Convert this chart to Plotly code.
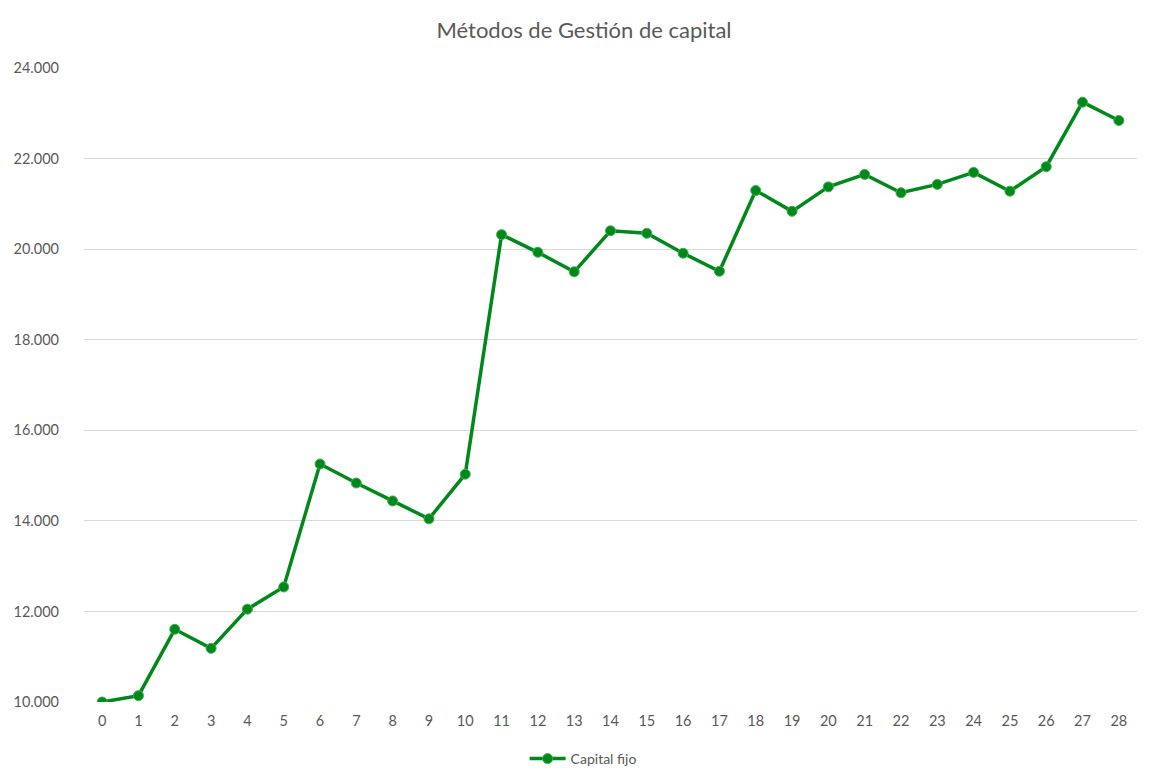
import plotly.graph_objects as go

# datos
periodos = list(range(29))
capital_fijo = [10000, 10140, 11605, 11185, 12050, 12540, 15255, 14835, 14440, 14045,
                15030, 20320, 19930, 19500, 20405, 20350, 19910, 19510, 21295, 20835,
                21375, 21650, 21245, 21430, 21695, 21280, 21820, 23245, 22840]
etiquetas_x = [str(p) for p in periodos]
ticks_y = [10000, 12000, 14000, 16000, 18000, 20000, 22000, 24000]

VERDE = "#00891A"
GRIS = "#595959"

fig = go.Figure()
fig.add_trace(go.Scatter(
    x=periodos, y=capital_fijo, name="Capital fijo",
    mode="lines+markers",
    line=dict(color=VERDE, width=3.5),
    marker=dict(color=VERDE, size=10, line=dict(color="#3FAF4F", width=1)),
))

# la pagina tiene ~8px de margen en el body, se compensa aqui
fig.update_layout(
    title=dict(text="Métodos de Gestión de capital", x=0.5, xanchor="center",
               y=0.971, yanchor="middle", font=dict(size=22, color=GRIS)),
    font=dict(family="Lato, Open Sans, sans-serif", color=GRIS, size=14.5),
    separators=",.",
    width=1152, height=764,
    margin=dict(l=76, r=23, t=60, b=70),
    plot_bgcolor="white", paper_bgcolor="white",
    showlegend=True,
    legend=dict(orientation="h", x=0.474, xanchor="center",
                yref="container", y=0.017, yanchor="middle",
                itemwidth=36, font=dict(size=14, color=GRIS)),
)
fig.update_xaxes(
    range=[-0.5, 28.5], tickvals=periodos, ticktext=etiquetas_x,
    showgrid=False, zeroline=False, showline=False, ticks="",
    ticklabelstandoff=8, automargin=False,
)
fig.update_yaxes(
    range=[10000, 24000], tickvals=ticks_y, tickformat=",d",
    showgrid=True, gridcolor="#D9D9D9", gridwidth=1.3, zeroline=False,
    showline=False, ticks="", ticklabelstandoff=24, automargin=False,
)

fig.write_html("out.html")
